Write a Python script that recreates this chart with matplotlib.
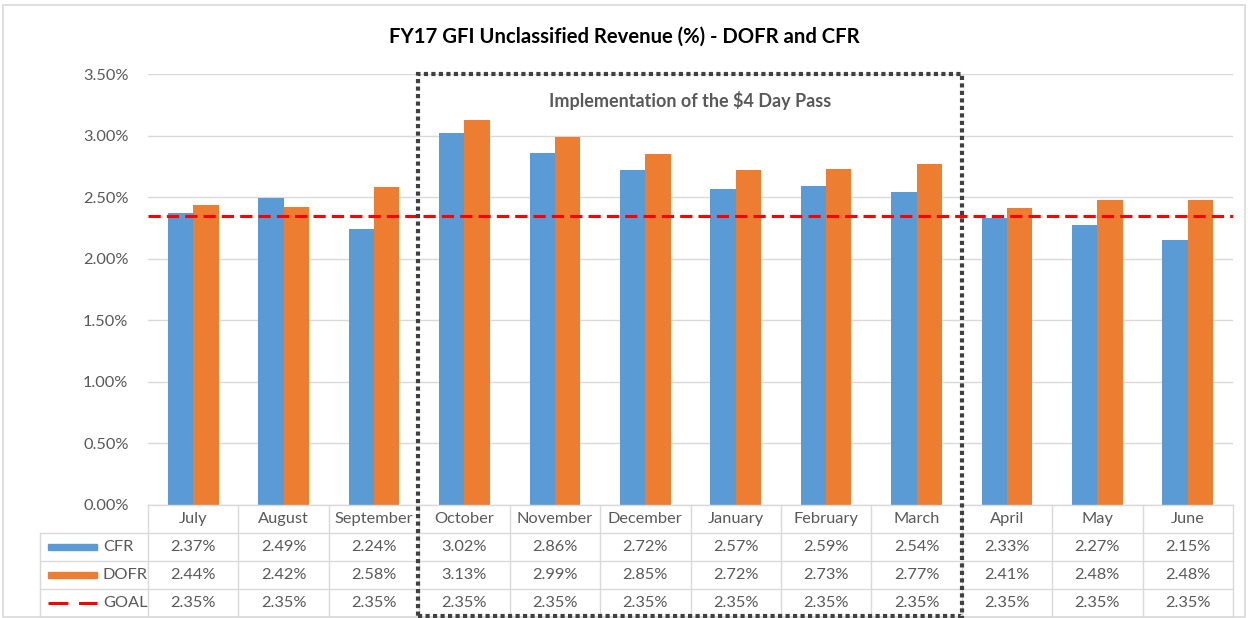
import matplotlib.pyplot as plt
from matplotlib.patches import Rectangle
from matplotlib.lines import Line2D
import numpy as np

plt.rcParams['font.family'] = ['Lato', 'DejaVu Sans']

months = ["July", "August", "September", "October", "November", "December",
          "January", "February", "March", "April", "May", "June"]
cfr = [2.37, 2.49, 2.24, 3.02, 2.86, 2.72, 2.57, 2.59, 2.54, 2.33, 2.27, 2.15]
dofr = [2.44, 2.42, 2.58, 3.13, 2.99, 2.85, 2.72, 2.73, 2.77, 2.41, 2.48, 2.48]
goal = [2.35] * 12
series_names = ["CFR", "DOFR", "GOAL"]
yticks = [0.0, 0.5, 1.0, 1.5, 2.0, 2.5, 3.0, 3.5]

BLUE = "#5b9bd5"
ORANGE = "#ed7d31"
RED = "#ff0000"
GRID = "#d9d9d9"
TXT = "#595959"
FS = 11.8

W, H = 1248, 618
fig = plt.figure(figsize=(W / 100, H / 100), dpi=100)


def fx(px):
    return px / W


def fy(py):
    return 1 - py / H


# outer chart border
fig.add_artist(Rectangle((fx(3), fy(617)), fx(1242), (617 - 5) / H,
                         transform=fig.transFigure, fill=False,
                         edgecolor=GRID, lw=1.2))

left, right, top, bot = 148, 1233, 74, 505
ax = fig.add_axes([fx(left), fy(bot), fx(right - left), (bot - top) / H])
x = np.arange(len(months))
bw = 0.28
ax.bar(x - bw / 2, cfr, bw, color=BLUE, zorder=3)
ax.bar(x + bw / 2, dofr, bw, color=ORANGE, zorder=3)
ax.plot([-0.5] + list(x) + [11.5], [goal[0]] + goal + [goal[-1]],
        color=RED, lw=2.2, dashes=(4, 2), zorder=4)
ax.set_xlim(-0.5, 11.5)
ax.set_ylim(0, 3.5)
ax.set_yticks(yticks)
ax.set_yticklabels([f"{v:.2f}%" for v in yticks], color=TXT, fontsize=FS)
ax.tick_params(axis='y', length=0, pad=14)
ax.set_xticks([])
ax.grid(axis='y', color=GRID, lw=1, zorder=0)
for s in ax.spines.values():
    s.set_visible(False)

fig.text(0.5, fy(37), "FY17 GFI Unclassified Revenue (%) - DOFR and CFR",
         ha='center', va='center', fontsize=14.6, fontweight='bold', color='black')

# data table
tleft, tbot = 40, 617
tax = fig.add_axes([fx(tleft), fy(tbot), fx(right - tleft), (tbot - bot) / H])
colw = (right - left) / 12
x0 = -0.5 - (left - tleft) / colw
tax.set_xlim(x0, 11.5)
tax.set_ylim(0, 4)
tax.axis('off')
lk = dict(color=GRID, lw=1, clip_on=False)
tax.plot([-0.5, 11.5], [4, 4], **lk)
for r in [0, 1, 2, 3]:
    tax.plot([x0, 11.5], [r, r], **lk)
tax.plot([x0, x0], [0, 3], **lk)
for c in range(13):
    tax.plot([c - 0.5, c - 0.5], [0, 4], **lk)
for i, m in enumerate(months):
    tax.text(i, 3.5, m, ha='center', va='center', fontsize=FS, color=TXT)
rows = [cfr, dofr, goal]
for r, vals in enumerate(rows):
    yc = 2.5 - r
    for i, v in enumerate(vals):
        tax.text(i, yc, f"{v:.2f}%", ha='center', va='center', fontsize=FS, color=TXT)
    tax.text(x0 + 63 / colw, yc, series_names[r], ha='left', va='center',
             fontsize=FS, color=TXT)
kx0, kx1 = x0 + 8 / colw, x0 + 57 / colw
tax.add_patch(Rectangle((kx0, 2.5 - 0.1), kx1 - kx0, 0.2, color=BLUE, clip_on=False))
tax.add_patch(Rectangle((kx0, 1.5 - 0.1), kx1 - kx0, 0.2, color=ORANGE, clip_on=False))
tax.add_line(Line2D([kx0, kx1], [0.5, 0.5], color=RED, lw=2.2, dashes=(6.5, 3.5)))

# highlight box
bx0, bx1 = left + 3 * colw - 1, left + 9 * colw
fig.add_artist(Rectangle((fx(bx0), fy(616)), fx(bx1 - bx0), (616 - 74) / H,
                         transform=fig.transFigure, fill=False,
                         edgecolor="#404040", lw=3.0, linestyle=(0, (1, 0.8)),
                         zorder=10))
fig.text(fx((bx0 + bx1) / 2), fy(100), r"Implementation of the \$4 Day Pass",
         ha='center', va='center', fontsize=13, fontweight='bold', color=TXT)

fig.savefig("out.png", dpi=100)
